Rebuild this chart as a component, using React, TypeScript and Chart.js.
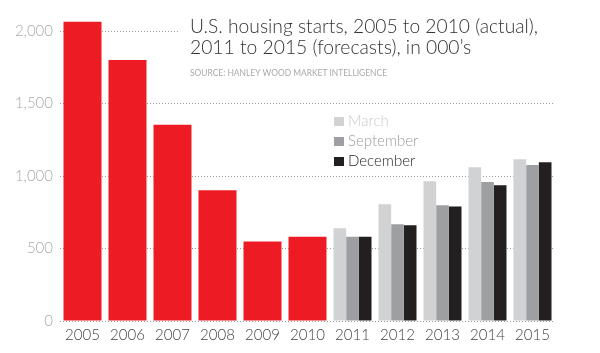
import React, { useEffect, useRef } from "react";
import { Chart, registerables } from "chart.js";

Chart.register(...registerables);

const years = ["2005", "2006", "2007", "2008", "2009", "2010", "2011", "2012", "2013", "2014", "2015"];
const actualValues = [2064, 1800, 1354, 902, 549, 581, null, null, null, null, null];
const marchValues = [null, null, null, null, null, null, 640, 805, 963, 1060, 1116];
const septemberValues = [null, null, null, null, null, null, 581, 667, 798, 958, 1076];
const decemberValues = [null, null, null, null, null, null, 581, 660, 790, 936, 1095];
const yTicks = [0, 500, 1000, 1500, 2000];
const seriesLabels = ["Actual", "March", "September", "December"];
const titleLines = ["U.S. housing starts, 2005 to 2010 (actual),", "2011 to 2015 (forecasts), in 000\u2019s"];
const sourceText = "SOURCE: HANLEY WOOD MARKET INTELLIGENCE";

const RED = "#ED1C24";
const MARCH = "#D1D2D4";
const SEPT = "#9D9FA2";
const DEC = "#231F20";
const legendTextColors = ["#C9CACC", "#9A9C9F", "#231F20"];
const FONT = "Lato, Roboto, 'Open Sans', sans-serif";

const overlayPlugin = {
  id: "overlay",
  afterDraw(chart: any) {
    const ctx = chart.ctx as CanvasRenderingContext2D;
    ctx.save();
    // title block with white backing
    ctx.fillStyle = "#ffffff";
    ctx.fillRect(180, 14, 380, 68);
    ctx.textAlign = "left";
    ctx.textBaseline = "alphabetic";
    ctx.fillStyle = "#333333";
    ctx.font = `300 19.3px ${FONT}`;
    ctx.fillText(titleLines[0], 190, 33, 348);
    ctx.fillText(titleLines[1], 190, 53.5, 283);
    ctx.fillStyle = "#AAAAAA";
    ctx.font = `400 8.5px ${FONT}`;
    ctx.fillText(sourceText, 190, 75.5, 197);
    // legend
    const ds = chart.data.datasets.slice(1);
    ds.forEach((d: any, i: number) => {
      const base = 126 + i * 20;
      ctx.fillStyle = d.backgroundColor;
      ctx.fillRect(334, base - 9, 10, 9);
      ctx.fillStyle = legendTextColors[i];
      ctx.font = `300 15px ${FONT}`;
      ctx.fillText(d.label, 348, base);
    });
    ctx.restore();
  },
};

export default function App() {
  const canvasRef = useRef<HTMLCanvasElement | null>(null);

  useEffect(() => {
    document.body.style.margin = "0";
    const canvas = canvasRef.current;
    if (!canvas) return;
    const catPct = 38 / 45;
    const chart = new Chart(canvas, {
      type: "bar",
      data: {
        labels: years,
        datasets: [
          { label: seriesLabels[0], data: actualValues, backgroundColor: RED, grouped: false, categoryPercentage: catPct, barPercentage: 1 } as any,
          { label: seriesLabels[1], data: marchValues, backgroundColor: MARCH, categoryPercentage: catPct, barPercentage: 1 },
          { label: seriesLabels[2], data: septemberValues, backgroundColor: SEPT, categoryPercentage: catPct, barPercentage: 1 },
          { label: seriesLabels[3], data: decemberValues, backgroundColor: DEC, categoryPercentage: catPct, barPercentage: 1 },
        ],
      },
      options: {
        responsive: false,
        animation: false,
        layout: { padding: { top: 16.5, right: 45, left: 0, bottom: 0 } },
        plugins: { legend: { display: false }, tooltip: { enabled: false }, title: { display: false } },
        scales: {
          x: {
            grid: { display: false, drawTicks: false },
            border: { display: false },
            ticks: { color: "#444444", font: { family: FONT, size: 15, weight: "300" as any }, padding: 5 },
            afterFit(scale: any) {
              scale.height = 32;
            },
          },
          y: {
            min: 0,
            max: 2100,
            afterBuildTicks(scale: any) {
              scale.ticks = yTicks.map((v) => ({ value: v }));
            },
            afterFit(scale: any) {
              scale.width = 60;
            },
            grid: { color: "#9A9A9A", lineWidth: 1, drawTicks: false },
            border: { display: false, dash: [1, 2] },
            ticks: {
              color: "#A7A9AC",
              font: { family: FONT, size: 15, weight: "300" as any },
              padding: 7,
              callback: (v: any) => Number(v).toLocaleString("en-US"),
            },
          },
        },
      },
      plugins: [overlayPlugin],
    });
    return () => chart.destroy();
  }, []);

  return <canvas ref={canvasRef} width={600} height={353} style={{ display: "block", width: 600, height: 353 }} />;
}
